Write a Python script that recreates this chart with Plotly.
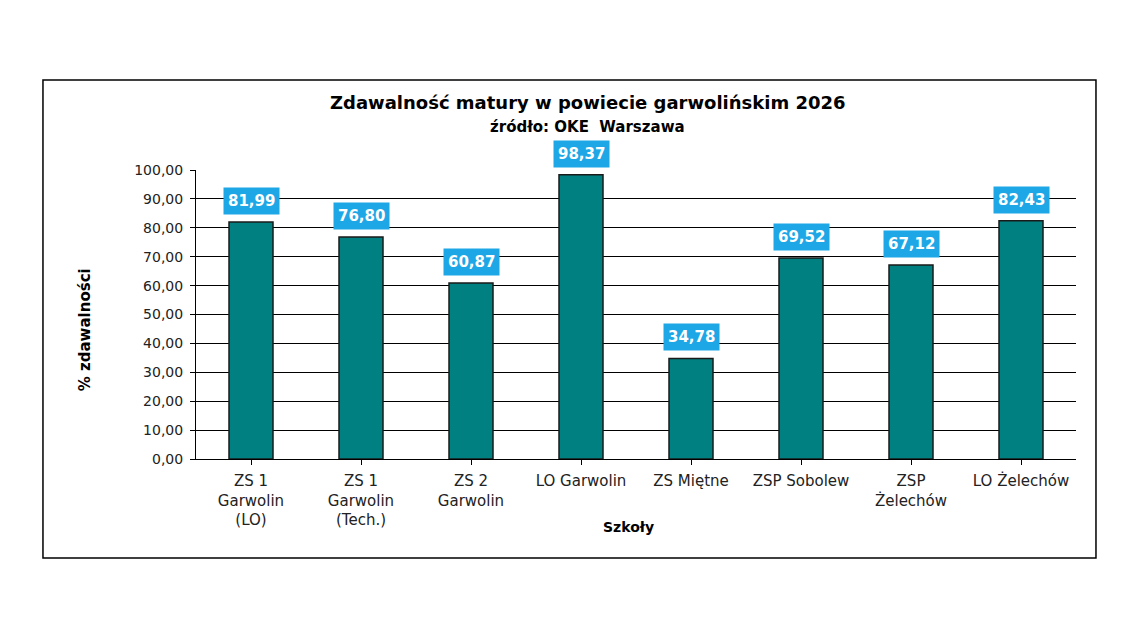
import plotly.graph_objects as go

categories = ["ZS 1<br>Garwolin<br>(LO)", "ZS 1<br>Garwolin<br>(Tech.)", "ZS 2<br>Garwolin",
              "LO Garwolin", "ZS Miętne", "ZSP Sobolew", "ZSP<br>Żelechów", "LO Żelechów"]
values = [81.99, 76.80, 60.87, 98.37, 34.78, 69.52, 67.12, 82.43]
labels = ["81,99", "76,80", "60,87", "98,37", "34,78", "69,52", "67,12", "82,43"]

FONT = "DejaVu Sans, Verdana, sans-serif"
fig = go.Figure()
fig.add_trace(go.Bar(
    x=list(range(len(categories))), y=values, width=0.4,
    marker=dict(color="#008080", line=dict(color="#1a1a1a", width=1.5)),
    hoverinfo="skip",
))

annotations = []
for i, (v, t) in enumerate(zip(values, labels)):
    annotations.append(dict(x=i, y=v, xref="x", yref="y", text="<b>%s</b>" % t,
                            showarrow=False, yshift=21, yanchor="middle",
                            bgcolor="#1EA7E6", borderpad=4,
                            font=dict(family=FONT, size=15, color="white")))

annotations += [
    dict(x=0.445, y=1.232, xref="paper", yref="paper", showarrow=False,
         text="<b>Zdawalność matury w powiecie garwolińskim 2026</b>",
         font=dict(family=FONT, size=18, color="black"), yanchor="middle"),
    dict(x=0.445, y=1.149, xref="paper", yref="paper", showarrow=False,
         text="<b>źródło: OKE  Warszawa</b>",
         font=dict(family=FONT, size=15, color="black"), yanchor="middle"),
    dict(x=-0.126, y=0.446, xref="paper", yref="paper", showarrow=False,
         text="<b>% zdawalności</b>", textangle=-90,
         font=dict(family=FONT, size=15, color="black"), xanchor="center", yanchor="middle"),
    dict(x=0.491, y=-0.237, xref="paper", yref="paper", showarrow=False,
         text="<b>Szkoły</b>",
         font=dict(family=FONT, size=14, color="black"), xanchor="center", yanchor="middle"),
]

fig.update_layout(
    width=1140, height=641,
    margin=dict(l=196, r=64, t=170, b=182),
    paper_bgcolor="white", plot_bgcolor="white",
    showlegend=False, separators=",.",
    annotations=annotations,
    shapes=[dict(type="rect", xref="paper", yref="paper",
                 x0=-0.1739, x1=1.0227, y0=-0.3426, y1=1.3114,
                 line=dict(color="black", width=1.5), layer="below")],
)
fig.update_xaxes(
    tickmode="array", tickvals=list(range(len(categories))), ticktext=categories,
    range=[-0.5, len(categories) - 0.5],
    showline=True, linecolor="black", linewidth=1,
    ticks="outside", ticklen=5, tickcolor="black", tickson="boundaries",
    ticklabelstandoff=3,
    showgrid=False, tickfont=dict(family=FONT, size=15, color="#222"),
)
fig.update_yaxes(
    range=[0, 100], dtick=10, tickformat=".2f",
    showline=True, linecolor="black", linewidth=1,
    ticks="outside", ticklen=5, tickcolor="black", ticklabelstandoff=4,
    showgrid=True, gridcolor="black", gridwidth=1,
    zeroline=False, tickfont=dict(family=FONT, size=14, color="#222"),
)
fig.write_html("out.html")
